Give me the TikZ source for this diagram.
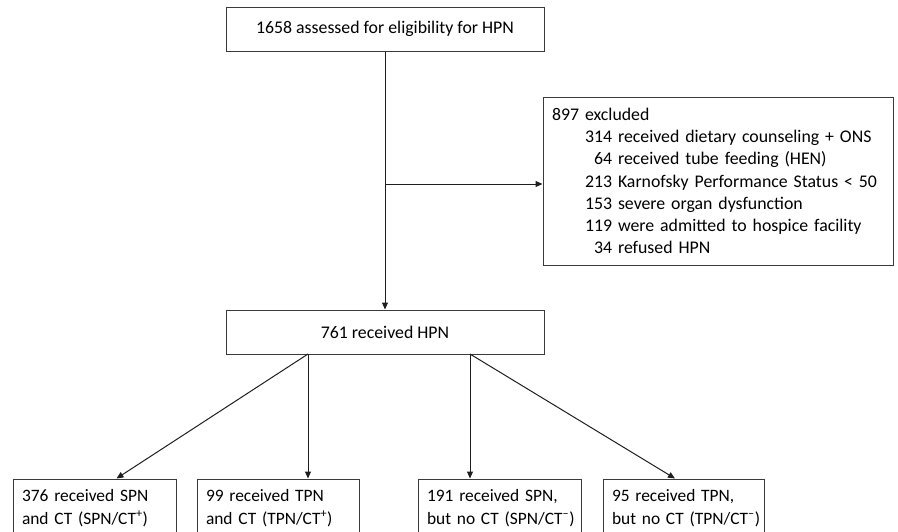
\documentclass[tikz,border=0pt]{standalone}
\usepackage{fontspec}
\setmainfont{Carlito}
\usetikzlibrary{arrows.meta, positioning, calc}
\definecolor{cline}{HTML}{1E1E1E}
\definecolor{cframe}{HTML}{3A3A3A}
\newcommand{\ctplus}{\textsuperscript{+}}
\newcommand{\ctminus}{\textsuperscript{\textendash}}
\tikzset{
  every picture/.style={font=\fontsize{17.8}{22.2}\selectfont, line width=1pt},
  box/.style={draw=cframe, align=center, inner xsep=10pt, inner ysep=0pt},
  group/.style={box, align=left, inner xsep=9pt, minimum height=58pt, text width=#1,
    font=\fontsize{17.4}{22.8}\selectfont},
  arrow/.style={-{Triangle[length=7pt, width=6pt]}, draw=cline, line width=1pt},
  link/.style={draw=cline, line width=1pt},
}
\begin{document}
\begin{tikzpicture}[x=1pt, y=-1pt]
  \useasboundingbox (0,0) rectangle (898,531);
  \node[box, minimum width=318pt, minimum height=44pt] (assess) at (385,29) {1658 assessed for eligibility for HPN};
  \node[box, minimum width=350pt, minimum height=168pt, text width=332pt, align=left, inner xsep=9pt] (excl) at (718,181)
    {897 excluded\\
     \hspace*{33pt}314 received dietary counseling + ONS\\
     \hspace*{33pt}\phantom{0}64 received tube feeding (HEN)\\
     \hspace*{33pt}213 Karnofsky Performance Status < 50\\
     \hspace*{33pt}153 severe organ dysfunction\\
     \hspace*{33pt}119 were admitted to hospice facility\\
     \hspace*{33pt}\phantom{0}34 refused HPN};
  \node[box, minimum width=318pt, minimum height=44pt] (hpn) at (385,332) {761 received HPN};
  % four treatment groups, cut off by the page edge
  \node[group=145pt] (spnct) at (94.5,508) {\mbox{376 received SPN}\\\mbox{and CT (SPN/CT\ctplus)}};
  \node[group=144pt] (tpnct) at (278,508) {\mbox{99 received TPN}\\\mbox{and CT (TPN/CT\ctplus)}};
  \node[group=145pt] (spnno) at (499.5,508) {\mbox{191 received SPN,}\\\mbox{but no CT (SPN/CT\ctminus)}};
  \node[group=143pt] (tpnno) at (683.5,508) {\mbox{95 received TPN,}\\\mbox{but no CT (TPN/CT\ctminus)}};
  \coordinate (split) at (385,184);
  \coordinate (left) at (308,354);
  \coordinate (right) at (470,354);
  \draw[link] (assess.south) -- (split);
  \draw[arrow] (split) -- (hpn.north);
  \draw[arrow] (split) -- (split -| excl.west);
  \draw[arrow] (left) -- ([xshift=22pt]spnct.north);
  \draw[arrow] (left) -- (left |- tpnct.north);
  \draw[arrow] (right) -- (right |- spnno.north);
  \draw[arrow] (right) -- ([xshift=-8.5pt]tpnno.north);
\end{tikzpicture}
\end{document}
